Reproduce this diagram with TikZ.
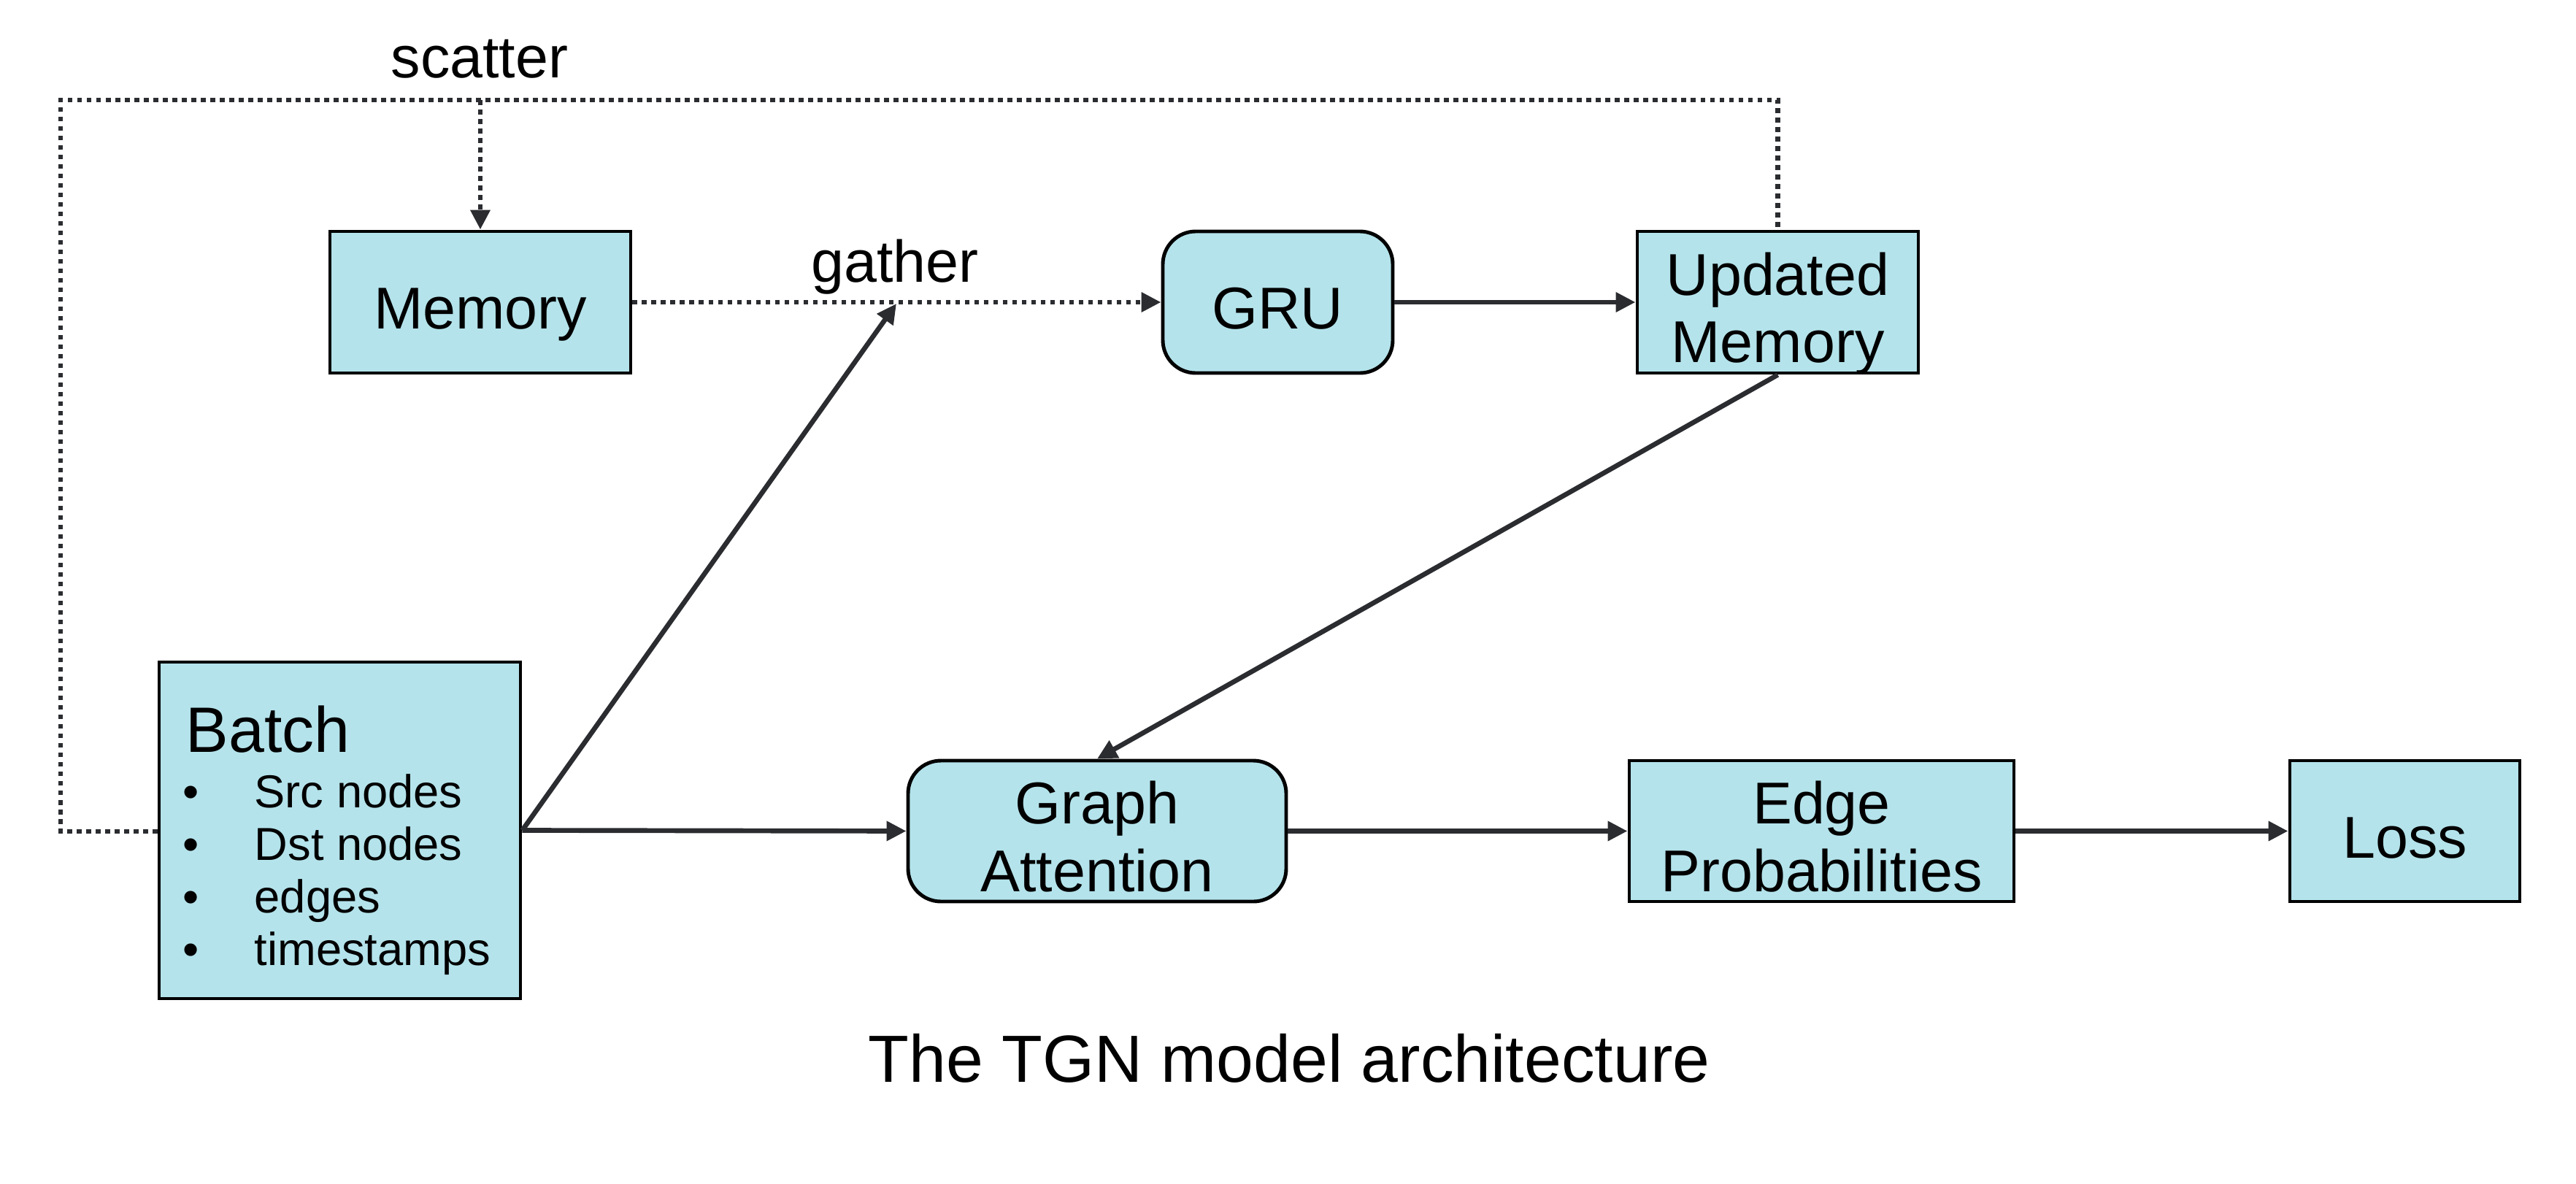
\documentclass[tikz,border=0pt]{standalone}
\usepackage{fontspec}
\setmainfont{Liberation Sans}
\usetikzlibrary{arrows.meta,positioning}
\definecolor{boxfill}{HTML}{B4E3EB}
\definecolor{linec}{HTML}{2A2C30}
\newcommand{\tstrut}{\rule{0pt}{20.8pt}}
\tikzset{
  box/.style={draw=black, line width=1.4pt, fill=boxfill, inner sep=0pt,
    font=\fontsize{23}{26.4}\selectfont, align=center, text depth=0pt},
  rbox/.style={box, rounded corners=0.45cm},
  conn/.style={draw=linec, line width=1.9pt, -{Triangle[length=0.27cm,width=0.26cm]}},
  dotline/.style={draw=linec, line width=1.9pt, dash pattern=on 1.9pt off 1.8pt},
  lbl/.style={font=\fontsize{23}{26}\selectfont, inner sep=0pt},
  btext/.style={font=\fontsize{18}{20}\selectfont, inner sep=0pt, anchor=base west},
}
\begin{document}
\begin{tikzpicture}
\useasboundingbox (0,0) rectangle (35.29,-16.22);
% nodes
\node[box, minimum width=4.12cm, minimum height=1.94cm] (mem) at (6.58,-4.14) {\tstrut Memory};
\node[rbox, minimum width=3.15cm, minimum height=1.94cm] (gru) at (17.505,-4.14) {\tstrut GRU};
\node[box, minimum width=3.85cm, minimum height=1.94cm] (upd) at (24.355,-4.14) {\tstrut Updated\\Memory};
\node[box, minimum width=4.95cm, minimum height=4.61cm] (batch) at (4.655,-11.375) {};
\node[rbox, minimum width=5.18cm, minimum height=1.93cm] (gat) at (15.03,-11.385) {\tstrut Graph\\Attention};
\node[box, minimum width=5.27cm, minimum height=1.93cm] (edge) at (24.955,-11.385) {\tstrut Edge\\Probabilities};
\node[box, minimum width=3.15cm, minimum height=1.93cm] (loss) at (32.945,-11.385) {\tstrut Loss};
% batch contents
\node[font=\fontsize{25}{28}\selectfont, inner sep=0pt, anchor=base west] (btitle) at (2.54,-10.30) {Batch};
\node[btext] (b1) at (2.50,-11.06) {•};
\node[btext] (b2) at (2.50,-11.78) {•};
\node[btext] (b3) at (2.50,-12.50) {•};
\node[btext] (b4) at (2.50,-13.22) {•};
\node[btext] (i1) at (3.48,-11.06) {Src nodes};
\node[btext] (i2) at (3.48,-11.78) {Dst nodes};
\node[btext] (i3) at (3.48,-12.50) {edges};
\node[btext] (i4) at (3.48,-13.22) {timestamps};
% labels
\node[lbl, anchor=base] (scat) at (6.57,-1.06) {scatter};
\node[lbl, anchor=base] (gath) at (12.26,-3.86) {gather};
\node[font=\fontsize{26}{30}\selectfont, inner sep=0pt, anchor=base] (cap) at (17.66,-14.82) {The TGN model architecture};
% coordinates
\coordinate (tl) at (0.83,-1.37);
\coordinate (tm) at (6.58,-1.37);
\coordinate (tr) at (24.355,-1.37);
\coordinate (bl) at (0.83,-11.39);
\coordinate (gp) at (12.28,-4.16);
% dotted loop
\draw[dotline] (batch.west |- bl) -- (bl) -- (tl) -- (tr) -- (upd.north);
\draw[dotline, -{Triangle[length=0.27cm,width=0.26cm]}] (tm) -- (mem.north);
\draw[dotline, -{Triangle[length=0.27cm,width=0.26cm]}] (mem.east) -- (gru.west);
% solid connectors
\draw[conn] (batch.east) -- (gp);
\draw[conn] (batch.east) -- (gat.west);
\draw[conn] (gru.east) -- (upd.west);
\draw[conn] (upd.south) -- (gat.north);
\draw[conn] (gat.east) -- (edge.west);
\draw[conn] (edge.east) -- (loss.west);
\end{tikzpicture}
\end{document}
